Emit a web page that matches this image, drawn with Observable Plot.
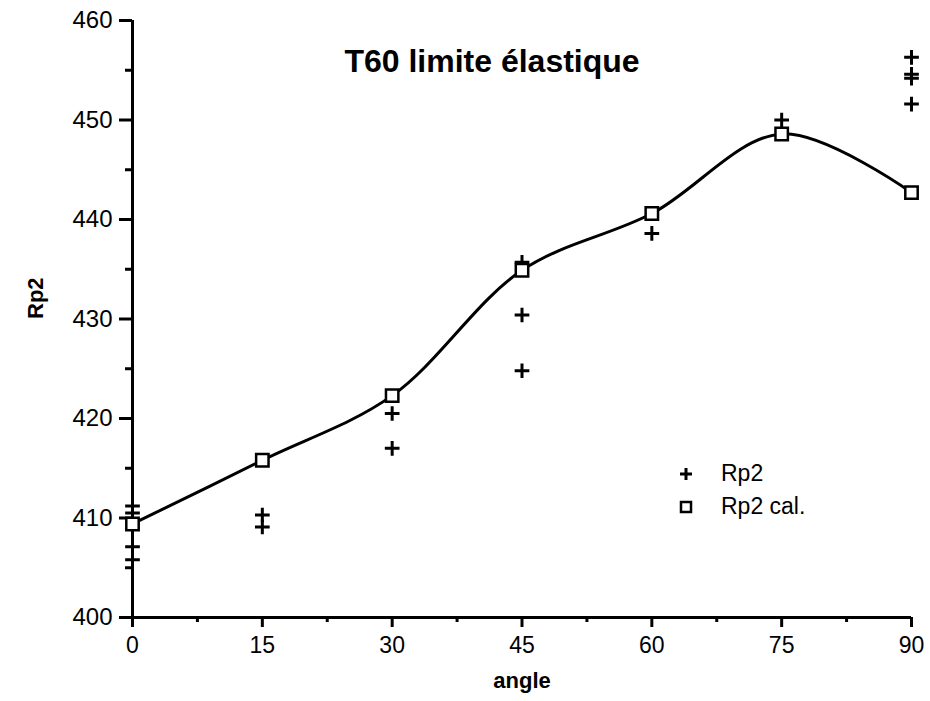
<!DOCTYPE html>
<html>
<head>
<meta charset="utf-8">
<script src="https://cdn.jsdelivr.net/npm/d3@7"></script>
<script src="https://cdn.jsdelivr.net/npm/@observablehq/plot@0.6"></script>
<style>
  html, body { margin: 0; padding: 0; background: #fff; }
  #wrap { position: relative; width: 930px; height: 701px; font-family: "Liberation Sans", Arial, sans-serif; }
  #legend { position: absolute; left: 675px; top: 457px; font-size: 23px; color: #000; }
  .item { display: flex; align-items: center; height: 33px; }
  .item svg { width: 22px; height: 22px; margin-right: 24px; }
</style>
</head>
<body>
<div id="wrap"></div>
<script>
// Calculated values (squares, joined by the curve)
const angles = [0, 15, 30, 45, 60, 75, 90];
const rp2Cal = [409.4, 415.8, 422.3, 434.9, 440.6, 448.6, 442.7];

// Measured values (plus markers)
const measAngle = [0, 0, 0, 0, 15, 15, 30, 30, 45, 45, 45, 60, 75, 90, 90, 90, 90];
const measRp2   = [411.2, 410.5, 407.1, 405.8, 410.3, 409.1, 420.5, 417.0, 435.7, 430.4, 424.8, 438.6, 450.0, 456.3, 454.6, 454.2, 451.6];

// Ticks and labels
const xTicks = [0, 15, 30, 45, 60, 75, 90];
const xMinor = [7.5, 22.5, 37.5, 52.5, 67.5, 82.5];
const yTicks = [400, 410, 420, 430, 440, 450, 460];
const yMinor = [405, 415, 425, 435, 445, 455];
const title = "T60 limite élastique";
const xLabel = "angle";
const yLabel = "Rp2";
const seriesNames = ["Rp2", "Rp2 cal."];

const calData = angles.map((a, i) => ({angle: a, rp2: rp2Cal[i]}));
const measData = measAngle.map((a, i) => ({angle: a, rp2: measRp2[i]}));

const chart = Plot.plot({
  width: 930,
  height: 701,
  marginLeft: 132,
  marginRight: 19,
  marginTop: 20,
  marginBottom: 84,
  style: {fontFamily: "'Liberation Sans', Arial, sans-serif", color: "#000", background: "#fff"},
  x: {domain: [0, 90]},
  y: {domain: [400, 460]},
  marks: [
    Plot.axisX(xTicks, {tickSize: 10, tickPadding: 9, fontSize: 23, strokeWidth: 3, label: null}),
    Plot.axisX(xMinor, {tickSize: 5, strokeWidth: 3, tickFormat: () => "", label: null}),
    Plot.axisY(yTicks, {tickSize: 13, tickPadding: 7, fontSize: 24, strokeWidth: 3, label: null}),
    Plot.axisY(yMinor, {tickSize: 7, strokeWidth: 3, tickFormat: () => "", label: null}),
    Plot.ruleY([400], {strokeWidth: 3}),
    Plot.ruleX([0], {strokeWidth: 3}),
    Plot.line(calData, {x: "angle", y: "rp2", curve: "catmull-rom", stroke: "#000", strokeWidth: 3}),
    Plot.dot(measData, {x: "angle", y: "rp2", symbol: "plus", r: 4.8, stroke: "#000", strokeWidth: 3}),
    Plot.dot(calData, {x: "angle", y: "rp2", symbol: "square", r: 7, fill: "#fff", stroke: "#000", strokeWidth: 2.5}),
    Plot.text([title], {frameAnchor: "top", dx: -30, dy: 29, fontSize: 32, fontWeight: "bold"}),
    Plot.text([xLabel], {frameAnchor: "bottom", dy: 70, fontSize: 22, fontWeight: "bold"}),
    Plot.text([yLabel], {frameAnchor: "left", dx: -97, rotate: -90, fontSize: 22, fontWeight: "bold"})
  ]
});

const wrap = document.getElementById("wrap");
wrap.appendChild(chart);

// Legend
const legend = document.createElement("div");
legend.id = "legend";
const glyphs = [
  '<svg viewBox="-11 -11 22 22"><path d="M-6,0H6M0,-6V6" stroke="#000" stroke-width="3" fill="none"/></svg>',
  '<svg viewBox="-11 -11 22 22"><rect x="-5" y="-5" width="10" height="10" stroke="#000" stroke-width="2.5" fill="#fff"/></svg>'
];
seriesNames.forEach((name, i) => {
  const row = document.createElement("div");
  row.className = "item";
  row.innerHTML = glyphs[i] + "<span>" + name + "</span>";
  legend.appendChild(row);
});
wrap.appendChild(legend);
</script>
</body>
</html>
